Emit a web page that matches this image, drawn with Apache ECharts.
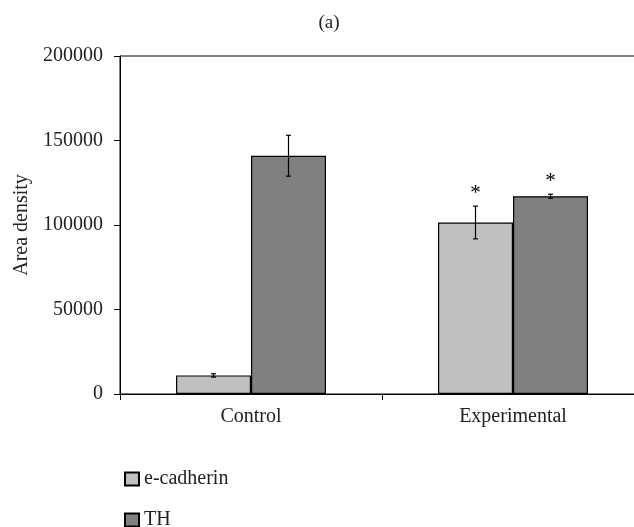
<!DOCTYPE html>
<html>
<head>
<meta charset="utf-8">
<script src="https://cdn.jsdelivr.net/npm/echarts@6/dist/echarts.min.js"></script>
<style>html,body{margin:0;padding:0;background:#fff;overflow:hidden;width:634px;height:527px;}#chart{width:660px;height:527px;}</style>
</head>
<body>
<div id="chart"></div>
<script>
const categories = ['Control', 'Experimental'];
const seriesNames = ['e-cadherin', 'TH'];
const ecadherin = [11000, 101500];
const ecadherinErr = [1000, 9700];
const ecadherinSig = [false, true];
const th = [141000, 117000];
const thErr = [12100, 1200];
const thSig = [false, true];
const yTicks = [0, 50000, 100000, 150000, 200000];

const FONT = 'Liberation Serif';
const BAR_W = 75;

function errorSeries(values, errs, sig, offsetSign) {
  return {
    type: 'custom',
    data: values.map((v, i) => [i, v, errs[i], sig[i] ? 1 : 0]),
    z: 10,
    renderItem: function (params, api) {
      const i = api.value(0), v = api.value(1), e = api.value(2), s = api.value(3);
      const c = api.coord([i, v]);
      const x = c[0] + offsetSign * BAR_W / 2;
      const top = api.coord([i, v + e])[1];
      const bot = api.coord([i, v - e])[1];
      const st = { stroke: '#000', lineWidth: 1.2 };
      const children = [
        { type: 'line', shape: { x1: x, y1: top, x2: x, y2: bot }, style: st },
        { type: 'line', shape: { x1: x - 2.5, y1: top, x2: x + 2.5, y2: top }, style: st },
        { type: 'line', shape: { x1: x - 2.5, y1: bot, x2: x + 2.5, y2: bot }, style: st }
      ];
      if (s) {
        children.push({ type: 'text', style: { text: '*', x: x, y: top - 2, align: 'center', verticalAlign: 'bottom', font: '21px ' + FONT, fill: '#000' } });
      }
      return { type: 'group', children: children };
    }
  };
}

const chart = echarts.init(document.getElementById('chart'));
chart.setOption({
  animation: false,
  backgroundColor: '#fff',
  title: {
    text: '(a)', left: 324, top: 9, textAlign: 'center',
    textStyle: { fontFamily: FONT, fontSize: 19, fontWeight: 'normal', color: '#222' }
  },
  legend: {
    orient: 'vertical', left: 119, top: 464, height: 120, itemGap: 21,
    itemWidth: 14, itemHeight: 13, icon: 'rect',
    textStyle: { fontFamily: FONT, fontSize: 20, color: '#222' },
    data: seriesNames
  },
  grid: {
    left: 120, top: 56, width: 524, height: 338,
    show: true, borderColor: '#000', borderWidth: 1, backgroundColor: 'transparent'
  },
  xAxis: {
    type: 'category', data: categories,
    axisLine: { lineStyle: { color: '#000', width: 1 } },
    axisTick: { show: true, length: 6, lineStyle: { color: '#000' } },
    axisLabel: { fontFamily: FONT, fontSize: 20, color: '#222', margin: 13 }
  },
  yAxis: {
    type: 'value', min: yTicks[0], max: yTicks[yTicks.length - 1], interval: yTicks[1] - yTicks[0],
    name: 'Area density', nameLocation: 'middle', nameGap: 88,
    nameTextStyle: { fontFamily: FONT, fontSize: 20, color: '#222' },
    axisLine: { show: true, lineStyle: { color: '#000', width: 1 } },
    axisTick: { show: true, length: 6, lineStyle: { color: '#000' } },
    axisLabel: { fontFamily: FONT, fontSize: 20, color: '#222', margin: 17, formatter: v => String(v) },
    splitLine: { show: false }
  },
  series: [
    { name: seriesNames[0], type: 'bar', data: ecadherin, barWidth: BAR_W, barGap: '0%',
      itemStyle: { color: '#c0c0c0', borderColor: '#000', borderWidth: 1.2 } },
    { name: seriesNames[1], type: 'bar', data: th, barWidth: BAR_W, barGap: '0%',
      itemStyle: { color: '#808080', borderColor: '#000', borderWidth: 1.2 } },
    errorSeries(ecadherin, ecadherinErr, ecadherinSig, -1),
    errorSeries(th, thErr, thSig, 1)
  ]
});
</script>
</body>
</html>
